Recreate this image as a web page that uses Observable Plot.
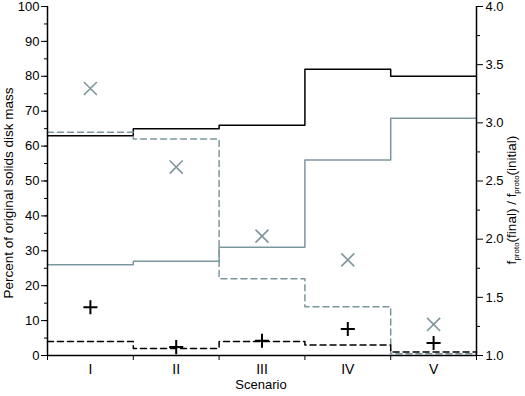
<!DOCTYPE html>
<html>
<head>
<meta charset="utf-8">
<script src="https://cdn.jsdelivr.net/npm/d3@7"></script>
<script src="https://cdn.jsdelivr.net/npm/@observablehq/plot@0.6"></script>
<style>
body { margin: 0; background: #fff; }
svg { font-family: "Liberation Sans", Arial, sans-serif; }
</style>
</head>
<body>
<div id="chart"></div>
<script>
const scenarios = ["I", "II", "III", "IV", "V"];
// step lines (percent of original solids disk mass, left axis)
const blackSolid = [63, 65, 66, 82, 80];
const graySolid = [26, 27, 31, 56, 68];
const grayDashed = [64, 62, 22, 14, 0.5];
const blackDashed = [4, 2, 4, 3, 1];
// markers
const grayCross = [76.5, 54, 34.2, 27.4, 8.9];
const blackPlus = [13.8, 2.4, 4.2, 7.6, 3.6];
// right axis ticks (ratio)
const ratioMajor = [1.0, 1.5, 2.0, 2.5, 3.0, 3.5, 4.0];
const ratioMinor = [1.25, 1.75, 2.25, 2.75, 3.25, 3.75];

const gray = "#7d969e";
const toPct = r => (r - 1) / 3 * 100;
const steps = vals => vals.map((v, i) => ({x: i + 0.5, y: v})).concat([{x: vals.length + 0.5, y: vals[vals.length - 1]}]);
const pts = vals => vals.map((v, i) => ({x: i + 1, y: v}));
const blank = () => "";

const svg = Plot.plot({
  width: 525,
  height: 396,
  marginLeft: 47,
  marginRight: 49,
  marginTop: 6,
  marginBottom: 41,
  style: {fontFamily: "Liberation Sans, Arial, sans-serif", fontSize: "13px", color: "#000"},
  x: {domain: [0.5, 5.5]},
  y: {domain: [0, 100]},
  marks: [
    Plot.line(steps(blackSolid), {x: "x", y: "y", curve: "step-after", stroke: "#000", strokeWidth: 1.5}),
    Plot.line(steps(graySolid), {x: "x", y: "y", curve: "step-after", stroke: gray, strokeWidth: 1.5}),
    Plot.line(steps(grayDashed), {x: "x", y: "y", curve: "step-after", stroke: gray, strokeWidth: 1.5, strokeDasharray: "6,4"}),
    Plot.line(steps(blackDashed), {x: "x", y: "y", curve: "step-after", stroke: "#000", strokeWidth: 1.5, strokeDasharray: "6,4"}),
    Plot.dot(pts(grayCross), {x: "x", y: "y", symbol: "times", r: 6, stroke: gray, strokeWidth: 1.6}),
    Plot.dot(pts(blackPlus), {x: "x", y: "y", symbol: "plus", r: 4.6, stroke: "#000", strokeWidth: 2}),
    // left axis
    Plot.axisY({ticks: d3.range(0, 101, 5), tickSize: 3, tickFormat: blank, label: null}),
    Plot.axisY({ticks: d3.range(0, 101, 10), tickSize: 6, tickPadding: 2, label: null, fontSize: 13}),
    // right axis
    Plot.axisY({anchor: "right", ticks: ratioMinor.map(toPct), tickSize: 3, tickFormat: blank, label: null}),
    Plot.axisY({anchor: "right", ticks: ratioMajor.map(toPct), tickSize: 6, tickPadding: 3, tickFormat: d => (1 + d * 3 / 100).toFixed(1), label: null, fontSize: 13}),
    // x axis
    Plot.axisX({ticks: d3.range(0.5, 5.6, 1), tickSize: 5, tickFormat: blank, label: null}),
    Plot.axisX({ticks: [1, 2, 3, 4, 5], tickSize: 0, tickPadding: 9, tickFormat: d => scenarios[d - 1], label: null, fontSize: 14}),
    Plot.ruleX([0.5, 5.5], {stroke: "#000", strokeWidth: 1.5}),
    Plot.ruleY([0], {stroke: "#000", strokeWidth: 1.5})
  ]
});

const s = d3.select(svg);
s.append("text")
  .attr("x", 261).attr("y", 389)
  .attr("text-anchor", "middle")
  .attr("font-size", 13)
  .attr("fill", "#000")
  .text("Scenario");

s.append("text")
  .attr("transform", "translate(13,193) rotate(-90)")
  .attr("text-anchor", "middle")
  .attr("font-size", 13.5)
  .attr("fill", "#000")
  .text("Percent of original solids disk mass");

const rt = s.append("text")
  .attr("transform", "translate(516,200) rotate(-90)")
  .attr("text-anchor", "middle")
  .attr("font-size", 13.5)
  .attr("fill", "#000");
rt.append("tspan").text("f");
rt.append("tspan").attr("font-size", 8).attr("dy", 3).text("proto");
rt.append("tspan").attr("dy", -3).text("(final) / f");
rt.append("tspan").attr("font-size", 8).attr("dy", 3).text("proto");
rt.append("tspan").attr("dy", -3).text("(initial)");

document.getElementById("chart").appendChild(svg);
</script>
</body>
</html>
